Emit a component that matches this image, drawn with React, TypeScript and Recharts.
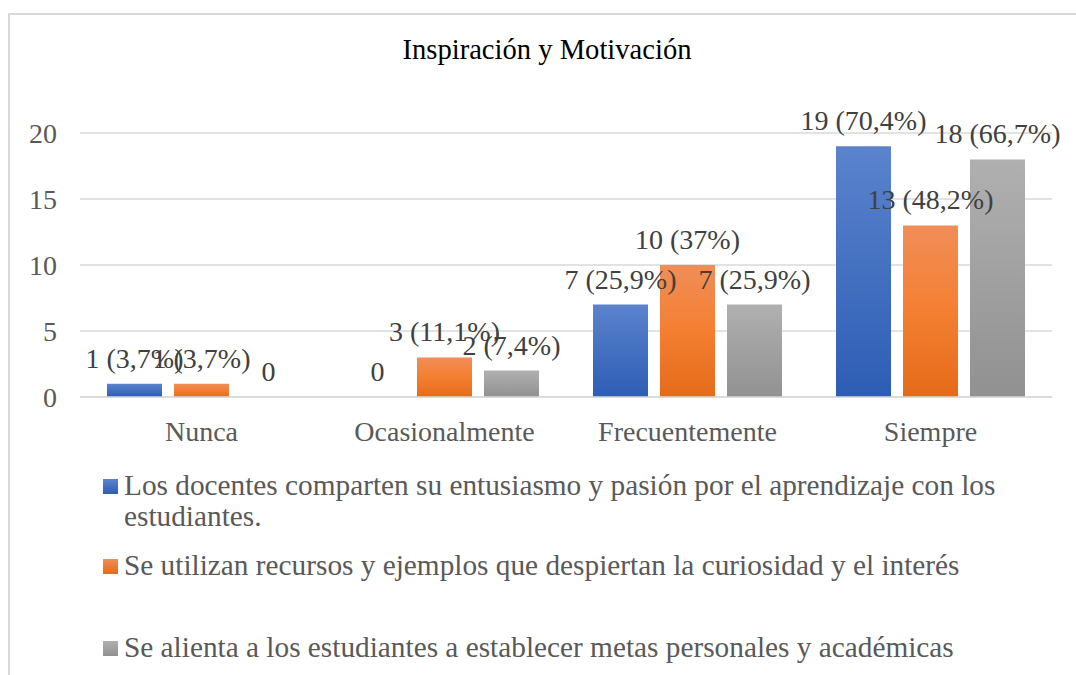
import { BarChart, Bar, XAxis, YAxis, CartesianGrid, LabelList, Legend } from 'recharts';

const categories = ['Nunca', 'Ocasionalmente', 'Frecuentemente', 'Siempre'];
const docentes = [1, 0, 7, 19];
const recursos = [1, 3, 10, 13];
const metas = [0, 2, 7, 18];
const docentesPct = ['3,7%', '', '25,9%', '70,4%'];
const recursosPct = ['3,7%', '11,1%', '37%', '48,2%'];
const metasPct = ['', '7,4%', '25,9%', '66,7%'];
const seriesNames = [
  'Los docentes comparten su entusiasmo y pasión por el aprendizaje con los estudiantes.',
  'Se utilizan recursos y ejemplos que despiertan la curiosidad y el interés',
  'Se alienta a los estudiantes a establecer metas personales y académicas',
];
const yTicks = [0, 5, 10, 15, 20];

const FONT = '"Liberation Serif", "Times New Roman", serif';

const label = (v: number, pct: string) => (v === 0 ? '0' : `${v} (${pct})`);

const data = categories.map((name, i) => ({
  name,
  docentes: docentes[i],
  recursos: recursos[i],
  metas: metas[i],
  docentesLabel: label(docentes[i], docentesPct[i]),
  recursosLabel: label(recursos[i], recursosPct[i]),
  metasLabel: label(metas[i], metasPct[i]),
}));

// legend swatches use the same gradients as the bars
const swatches = [
  'linear-gradient(#5b83cd, #2d5db4)',
  'linear-gradient(#f08e58, #e46b19)',
  'linear-gradient(#b0b0b0, #919191)',
];
const legendTops = [0, 80, 162];

function ChartLegend() {
  return (
    <div style={{ position: 'relative', width: 1000, height: 200, fontFamily: FONT, fontSize: 29.3, color: '#595959' }}>
      {seriesNames.map((n, i) => (
        <div key={n} style={{ position: 'absolute', left: 0, top: legendTops[i], width: 1000 }}>
          <div style={{ position: 'absolute', left: 103, top: 9, width: 15, height: 15, background: swatches[i] }} />
          <div style={{ position: 'absolute', left: 124, top: 0, width: 890, lineHeight: '31px', textAlign: 'left', whiteSpace: 'normal' }}>{n}</div>
        </div>
      ))}
    </div>
  );
}

// plain one-line label above each bar (the default Label wraps to the bar width)
const BarLabel = (props: any) => {
  const { x, y, width, value } = props;
  if (value === undefined || value === null) return null;
  return (
    <text
      x={Number(x) + Number(width) / 2}
      y={Number(y) - 16}
      textAnchor="middle"
      fontFamily={FONT}
      fontSize={28}
      fill="#404040"
    >
      {value}
    </text>
  );
};

// zero bars get a hairline height so their "0" label is still drawn
const zeroPoint = (v: any) => (Number(v) === 0 ? 0.01 : 0);

export default function App() {
  return (
    <div style={{ position: 'absolute', left: 0, top: 0, width: 1076, height: 675, overflow: 'hidden', background: '#fff' }}>
      <div style={{ position: 'absolute', left: 8, top: 13, width: 1100, height: 700, border: '2px solid #d9d9d9' }} />
      <div style={{ position: 'absolute', left: 0, top: 34, width: 1094, textAlign: 'center', fontFamily: FONT, fontSize: 28.6, lineHeight: '31px', color: '#000' }}>
        Inspiración y Motivación
      </div>
      <div style={{ position: 'absolute', left: 0, top: 0 }}>
        <BarChart
          width={1076}
          height={675}
          data={data}
          margin={{ top: 133, right: 24, left: 20, bottom: 238 }}
          barCategoryGap={27}
          barGap={12}
        >
          <defs>
            <linearGradient id="gBlue" x1="0" y1="0" x2="0" y2="1">
              <stop offset="0%" stopColor="#5b83cd" />
              <stop offset="100%" stopColor="#2d5db4" />
            </linearGradient>
            <linearGradient id="gOrange" x1="0" y1="0" x2="0" y2="1">
              <stop offset="0%" stopColor="#f08e58" />
              <stop offset="50%" stopColor="#f47f31" />
              <stop offset="100%" stopColor="#e46b19" />
            </linearGradient>
            <linearGradient id="gGray" x1="0" y1="0" x2="0" y2="1">
              <stop offset="0%" stopColor="#b0b0b0" />
              <stop offset="100%" stopColor="#919191" />
            </linearGradient>
          </defs>
          <CartesianGrid vertical={false} stroke="#d9d9d9" strokeWidth={1.5} />
          <XAxis
            dataKey="name"
            height={40}
            tickLine={false}
            tickSize={0}
            tickMargin={24}
            axisLine={{ stroke: '#d9d9d9', strokeWidth: 1.5 }}
            tick={{ fontFamily: FONT, fontSize: 28, fill: '#595959' }}
          />
          <YAxis
            width={60}
            domain={[0, 20]}
            ticks={yTicks}
            tickLine={false}
            tickSize={0}
            tickMargin={23}
            axisLine={false}
            tick={{ fontFamily: FONT, fontSize: 28, fill: '#595959' }}
          />
          <Legend
            layout="vertical"
            align="center"
            verticalAlign="middle"
            wrapperStyle={{ left: 0, top: 470, width: 1000 }}
            content={() => <ChartLegend />}
          />
          <Bar dataKey="docentes" name={seriesNames[0]} fill="url(#gBlue)" minPointSize={zeroPoint} isAnimationActive={false}>
            <LabelList dataKey="docentesLabel" content={BarLabel} />
          </Bar>
          <Bar dataKey="recursos" name={seriesNames[1]} fill="url(#gOrange)" minPointSize={zeroPoint} isAnimationActive={false}>
            <LabelList dataKey="recursosLabel" content={BarLabel} />
          </Bar>
          <Bar dataKey="metas" name={seriesNames[2]} fill="url(#gGray)" minPointSize={zeroPoint} isAnimationActive={false}>
            <LabelList dataKey="metasLabel" content={BarLabel} />
          </Bar>
        </BarChart>
      </div>
    </div>
  );
}
